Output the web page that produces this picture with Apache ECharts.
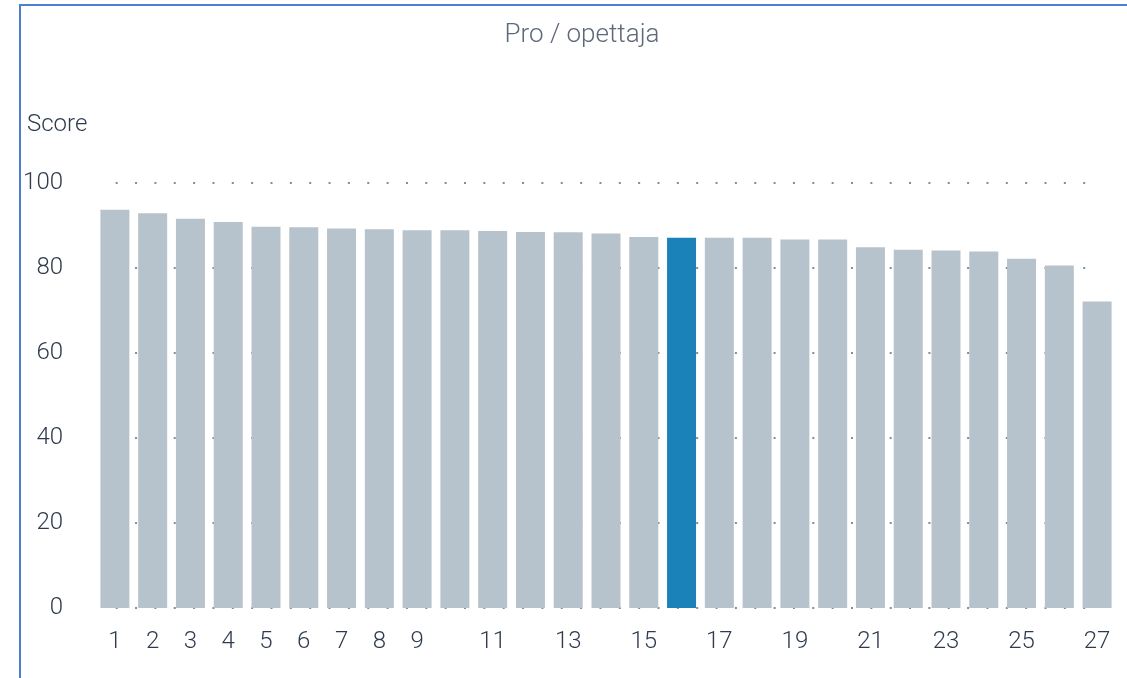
<!DOCTYPE html>
<html>
<head>
<meta charset="utf-8">
<script src="https://cdn.jsdelivr.net/npm/echarts@6/dist/echarts.min.js"></script>
<style>
  html, body { margin: 0; padding: 0; background: #fff; }
  #chart { position: absolute; left: 0; top: 0; width: 1127px; height: 678px; }
  #frame { position: absolute; left: 19px; top: 4px; width: 1110px; height: 680px;
           border-top: 2px solid #4c7fd4; border-left: 2px solid #4c7fd4; pointer-events: none; }
</style>
</head>
<body>
<div id="chart"></div>
<div id="frame"></div>
<script>
// one bar per participant, sorted by score
const categories = ['1','2','3','4','5','6','7','8','9','10','11','12','13','14','15','16','17','18','19','20','21','22','23','24','25','26','27'];
const scores = [93.7, 92.9, 91.6, 90.8, 89.7, 89.6, 89.3, 89.1, 88.9, 88.9, 88.7, 88.5, 88.4, 88.1,
                87.3, 87.1, 87.1, 87.1, 86.7, 86.7, 84.9, 84.3, 84.1, 83.9, 82.2, 80.6, 72.1];
const highlightIndex = 15;
const yTicks = [0, 20, 40, 60, 80, 100];

const labelFont = 'Roboto';
const labelColor = '#2f3b4d';

var chart = echarts.init(document.getElementById('chart'));

const option = {
  animation: false,
  title: [
    {
      text: 'Pro / opettaja',
      left: 577,
      top: 17,
      textAlign: 'center',
      textStyle: { color: '#5d6878', fontSize: 26, fontWeight: 300, fontFamily: 'Roboto' }
    },
    {
      text: 'Score',
      left: 22,
      top: 108,
      textStyle: { color: labelColor, fontSize: 24, fontWeight: 300, fontFamily: labelFont }
    }
  ],
  grid: [
    { left: 96, right: 11, top: 183, bottom: 70 },
    // dotted guide lines span bar centres only
    { left: 115.7, right: 41, top: 183, bottom: 70 }
  ],
  xAxis: [
    {
      type: 'category',
      gridIndex: 0,
      data: categories,
      axisLine: { show: false },
      axisTick: { show: false },
      axisLabel: {
        color: labelColor,
        fontSize: 24,
        fontWeight: 300,
        fontFamily: labelFont,
        margin: 22,
        interval: function (i) { return i < 9 || i % 2 === 0; }
      }
    },
    { type: 'value', gridIndex: 1, show: false }
  ],
  yAxis: [
    {
      type: 'value',
      gridIndex: 0,
      min: 0,
      max: 100,
      interval: 20,
      axisLine: { show: false },
      axisTick: { show: false },
      splitLine: { show: false },
      axisLabel: {
        color: labelColor,
        fontSize: 24,
        fontWeight: 300,
        fontFamily: labelFont,
        margin: 33,
        customValues: yTicks
      }
    },
    {
      type: 'value',
      gridIndex: 1,
      min: 0,
      max: 100,
      interval: 20,
      axisLine: { show: false },
      axisTick: { show: false },
      axisLabel: { show: false },
      splitLine: {
        show: true,
        lineStyle: { color: '#7f8d9e', width: 2, type: [2, 17.35] }
      }
    }
  ],
  series: [
    {
      name: 'Score',
      type: 'bar',
      xAxisIndex: 0,
      yAxisIndex: 0,
      barWidth: 29,
      data: scores.map(function (v, i) {
        return {
          value: v,
          itemStyle: { color: i === highlightIndex ? '#1a82b9' : '#b7c3cc' }
        };
      })
    }
  ]
};

chart.setOption(option);
</script>
</body>
</html>
